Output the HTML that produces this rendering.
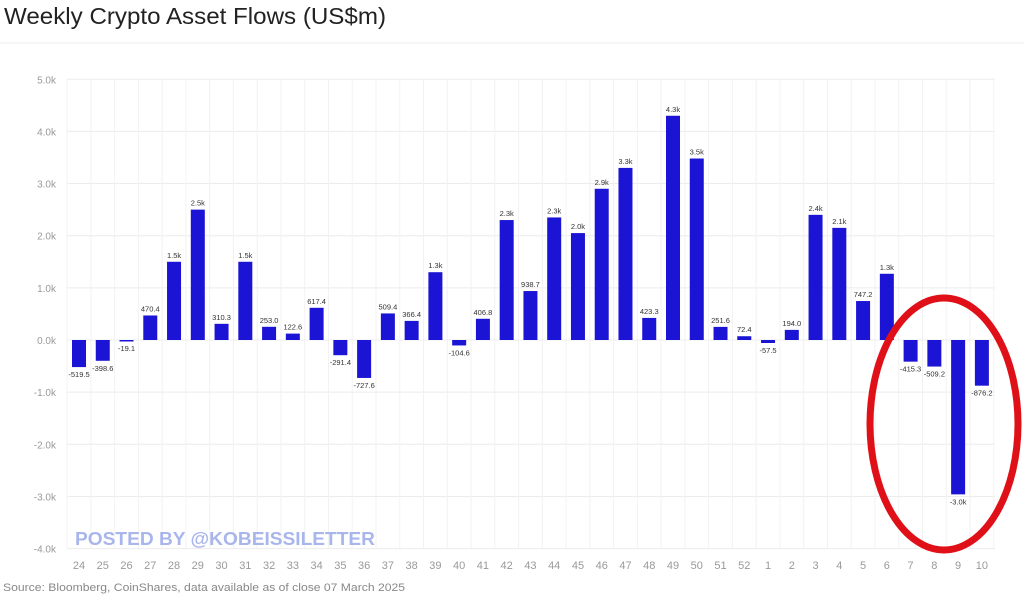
<!DOCTYPE html>
<html><head><meta charset="utf-8"><style>
body{margin:0;background:#fff;width:1024px;height:595px;overflow:hidden}
text{font-family:"Liberation Sans",sans-serif}
</style></head><body>
<svg width="1024" height="595" xmlns="http://www.w3.org/2000/svg">
<text x="4" y="24" font-size="23" fill="#222" textLength="382" lengthAdjust="spacingAndGlyphs">Weekly Crypto Asset Flows (US$m)</text>
<line x1="0" y1="43" x2="1024" y2="43" stroke="#eee"/>
<g id="g"></g>
<text x="75" y="545" font-size="18" font-weight="bold" fill="#a9b6ec" textLength="300" lengthAdjust="spacingAndGlyphs">POSTED BY @KOBEISSILETTER</text>
<text x="3" y="591" font-size="11" fill="#888" textLength="402" lengthAdjust="spacingAndGlyphs">Source: Bloomberg, CoinShares, data available as of close 07 March 2025</text>
<ellipse cx="944" cy="424" rx="74" ry="126" fill="none" stroke="#e01018" stroke-width="7"/>
</svg>
<script>
var v=[-519.5,-398.6,-19.1,470.4,1500,2500,310.3,1500,253,122.6,617.4,-291.4,-727.6,509.4,366.4,1300,-104.6,406.8,2300,938.7,2350,2050,2900,3300,423.3,4300,3480,251.6,72.4,-57.5,194,2400,2150,747.2,1270,-415.3,-509.2,-2960,-876.2];
var l=["-519.5","-398.6","-19.1","470.4","1.5k","2.5k","310.3","1.5k","253.0","122.6","617.4","-291.4","-727.6","509.4","366.4","1.3k","-104.6","406.8","2.3k","938.7","2.3k","2.0k","2.9k","3.3k","423.3","4.3k","3.5k","251.6","72.4","-57.5","194.0","2.4k","2.1k","747.2","1.3k","-415.3","-509.2","-3.0k","-876.2"];
var wk=[];for(var i=24;i<=52;i++)wk.push(i);for(i=1;i<=10;i++)wk.push(i);
var s='',z=340,k=52.15,x0=79,dx=23.76;
for(i=5;i>=-4;i--){var y=z-i*k;s+='<line x1="67" x2="995" y1="'+y+'" y2="'+y+'" stroke="#ececec"/><text x="56" y="'+(y+4)+'" font-size="10" fill="#999" text-anchor="end">'+(i==0?'0.0k':i.toFixed(1)+'k')+'</text>';}
for(i=0;i<=39;i++){var x=x0-dx/2+i*dx;s+='<line x1="'+x+'" x2="'+x+'" y1="79" y2="548" stroke="#f2f2f2"/>';}
for(i=0;i<39;i++){var cx=x0+i*dx,h=v[i]*k/1000,y=h>0?z-h:z;
s+='<rect x="'+(cx-7)+'" y="'+y+'" width="14" height="'+Math.max(Math.abs(h),1.5)+'" fill="#1c14d4"/>';
var ty=h>0?z-h-4:z-h+10;s+='<text x="'+cx+'" y="'+ty+'" font-size="7.5" fill="#333" text-anchor="middle">'+l[i]+'</text>';
s+='<text x="'+cx+'" y="569" font-size="11" fill="#999" text-anchor="middle">'+wk[i]+'</text>';}
document.getElementById('g').innerHTML=s;
</script>
</body></html>
